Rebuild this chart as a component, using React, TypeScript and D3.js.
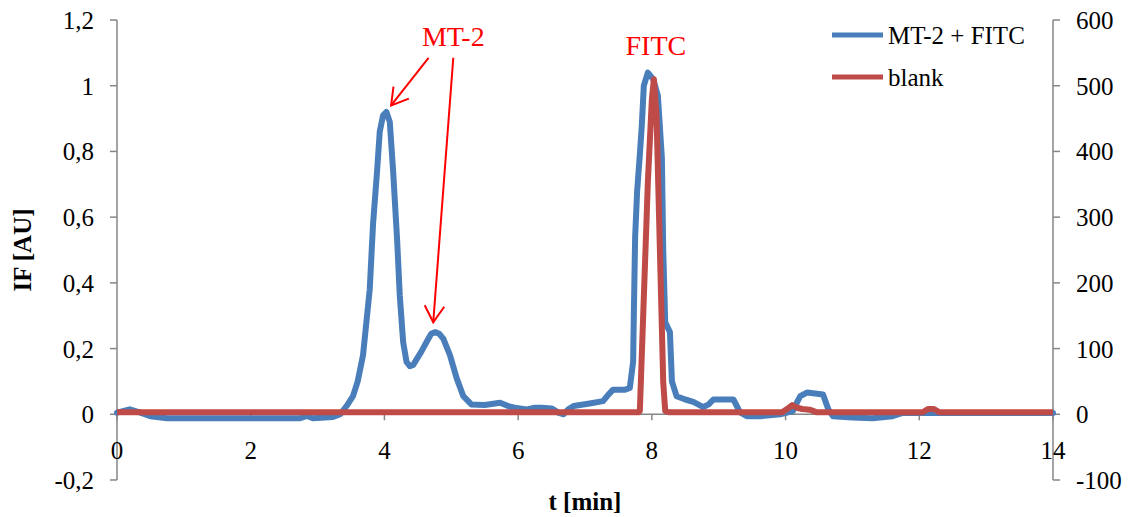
import * as d3 from 'd3';
import React from 'react';

// MT-2 + FITC trace (left axis, IF [AU])
const blueT = [0, 0.19, 0.35, 0.5, 0.75, 1.5, 2.5, 2.74, 2.84, 2.93, 3.23, 3.34, 3.45, 3.53, 3.6, 3.68, 3.73, 3.78, 3.83, 3.89, 3.93, 3.98, 4.03, 4.08, 4.13, 4.19, 4.23, 4.28, 4.33, 4.38, 4.43, 4.48, 4.55, 4.63, 4.7, 4.76, 4.82, 4.88, 4.98, 5.08, 5.18, 5.3, 5.5, 5.73, 5.85, 5.95, 6.13, 6.25, 6.35, 6.5, 6.6, 6.68, 6.75, 6.83, 7.07, 7.27, 7.35, 7.42, 7.6, 7.67, 7.72, 7.73, 7.75, 7.78, 7.82, 7.85, 7.88, 7.94, 8.02, 8.09, 8.15, 8.17, 8.2, 8.27, 8.3, 8.37, 8.5, 8.62, 8.77, 8.85, 8.92, 9.22, 9.32, 9.42, 9.62, 9.92, 10.11, 10.18, 10.22, 10.32, 10.56, 10.64, 10.71, 11.0, 11.3, 11.6, 11.75, 14];
const blueV = [0.005, 0.015, 0.005, -0.006, -0.012, -0.012, -0.012, -0.012, -0.005, -0.012, -0.008, 0.0, 0.03, 0.055, 0.1, 0.18, 0.28, 0.38, 0.58, 0.74, 0.86, 0.91, 0.92, 0.89, 0.74, 0.53, 0.36, 0.22, 0.16, 0.146, 0.15, 0.167, 0.19, 0.22, 0.245, 0.25, 0.245, 0.23, 0.18, 0.11, 0.055, 0.03, 0.028, 0.035, 0.025, 0.02, 0.015, 0.02, 0.02, 0.018, 0.005, 0.0, 0.015, 0.025, 0.033, 0.04, 0.06, 0.075, 0.075, 0.08, 0.16, 0.3, 0.54, 0.68, 0.79, 0.88, 1.0, 1.04, 1.02, 0.97, 0.78, 0.5, 0.28, 0.25, 0.1, 0.055, 0.045, 0.038, 0.022, 0.03, 0.045, 0.045, 0.006, -0.006, -0.006, 0.0, 0.01, 0.04, 0.055, 0.066, 0.06, 0.015, -0.006, -0.01, -0.012, -0.006, 0.004, 0.004];

// blank trace (right axis)
const redT = [0, 7.8, 7.82, 7.87, 7.94, 8.0, 8.03, 8.07, 8.12, 8.17, 8.2, 8.25, 9.95, 10.05, 10.1, 10.17, 10.25, 10.36, 10.47, 12.05, 12.13, 12.22, 12.3, 14];
const redV = [3, 3, 5, 149, 353, 479, 510, 454, 251, 49, 5, 3, 3, 10, 14, 10, 8, 7, 3, 3, 8, 8, 3, 3];

const xTicks = [0, 2, 4, 6, 8, 10, 12, 14];
const leftTicks = [-0.2, 0, 0.2, 0.4, 0.6, 0.8, 1, 1.2];
const rightTicks = [-100, 0, 100, 200, 300, 400, 500, 600];
const seriesNames = ['MT-2 + FITC', 'blank'];

const W = 1129, H = 517;
const left = 117, right = 1053, top = 20, bottom = 480;
const font = '"Liberation Serif", "Times New Roman", serif';
const blue = '#4A7EBB', red = '#BE4B48', axisCol = '#868686';

const fmt = (v: number) => String(+v.toFixed(1)).replace('.', ',');

function Arrow({ x1, y1, x2, y2 }: { x1: number; y1: number; x2: number; y2: number }) {
  const a = Math.atan2(y1 - y2, x1 - x2);
  const len = 19, spread = (31 * Math.PI) / 180;
  const p1 = [x2 + len * Math.cos(a + spread), y2 + len * Math.sin(a + spread)];
  const p2 = [x2 + len * Math.cos(a - spread), y2 + len * Math.sin(a - spread)];
  return (
    <g stroke="#FF0000" strokeWidth={2} fill="none">
      <line x1={x1} y1={y1} x2={x2} y2={y2} />
      <polyline points={`${p1[0]},${p1[1]} ${x2},${y2} ${p2[0]},${p2[1]}`} />
    </g>
  );
}

export default function App() {
  const x = d3.scaleLinear().domain([0, 14]).range([left, right]);
  const yL = d3.scaleLinear().domain([-0.2, 1.2]).range([bottom, top]);
  const yR = d3.scaleLinear().domain([-100, 600]).range([bottom, top]);

  const blueLine = d3.line<number>().x((_, i) => x(blueT[i])).y((d) => yL(d))(blueV) || '';
  const redLine = d3.line<number>().x((_, i) => x(redT[i])).y((d) => yR(d))(redV) || '';

  const y0 = yL(0);

  return (
    <div style={{ position: 'absolute', left: 0, top: 0 }}>
      <svg width={W} height={H} style={{ display: 'block', fontFamily: font }}>
        <rect width={W} height={H} fill="white" />
        {/* left axis */}
        <line x1={left} x2={left} y1={top} y2={bottom} stroke={axisCol} strokeWidth={1.5} />
        {leftTicks.map((t) => (
          <g key={'l' + t}>
            <line x1={left - 7} x2={left} y1={yL(t)} y2={yL(t)} stroke={axisCol} strokeWidth={1.5} />
            <text x={94} y={yL(t) + 9} textAnchor="end" fontSize={25}>{fmt(t)}</text>
          </g>
        ))}
        {/* right axis */}
        <line x1={right} x2={right} y1={top} y2={bottom} stroke={axisCol} strokeWidth={1.5} />
        {rightTicks.map((t) => (
          <g key={'r' + t}>
            <line x1={right} x2={right + 7} y1={yR(t)} y2={yR(t)} stroke={axisCol} strokeWidth={1.5} />
            <text x={1076} y={yR(t) + 9} textAnchor="start" fontSize={25}>{t}</text>
          </g>
        ))}
        {/* x axis at zero */}
        <line x1={left} x2={right} y1={y0} y2={y0} stroke={axisCol} strokeWidth={1.5} />
        {xTicks.map((t) => (
          <g key={'x' + t}>
            <line x1={x(t)} x2={x(t)} y1={y0} y2={y0 + 6} stroke={axisCol} strokeWidth={1.5} />
            <text x={x(t)} y={y0 + 45} textAnchor="middle" fontSize={25}>{t}</text>
          </g>
        ))}
        {/* series */}
        <path d={blueLine} fill="none" stroke={blue} strokeWidth={6} strokeLinejoin="round" strokeLinecap="round" />
        <path d={redLine} fill="none" stroke={red} strokeWidth={6} strokeLinejoin="round" strokeLinecap="butt" />
        {/* axis titles */}
        <text x={585} y={510} textAnchor="middle" fontSize={25} fontWeight="bold">t [min]</text>
        <text transform="translate(31,250) rotate(-90)" textAnchor="middle" fontSize={25} fontWeight="bold">IF [AU]</text>
        {/* legend */}
        <line x1={832} x2={883} y1={35} y2={35} stroke={blue} strokeWidth={5} />
        <text x={888} y={44} fontSize={25}>{seriesNames[0]}</text>
        <line x1={832} x2={883} y1={77} y2={77} stroke={red} strokeWidth={5} />
        <text x={888} y={86} fontSize={25}>{seriesNames[1]}</text>
        {/* annotations */}
        <text x={x(5.03)} y={yL(1.12)} textAnchor="middle" fontSize={28} fill="#FF0000">MT-2</text>
        <text x={x(8.06)} y={yL(1.095)} textAnchor="middle" fontSize={28} fill="#FF0000">FITC</text>
        <Arrow x1={x(4.66)} y1={yL(1.085)} x2={x(4.1)} y2={yL(0.94)} />
        <Arrow x1={x(5.03)} y1={yL(1.085)} x2={x(4.73)} y2={yL(0.28)} />
      </svg>
    </div>
  );
}
